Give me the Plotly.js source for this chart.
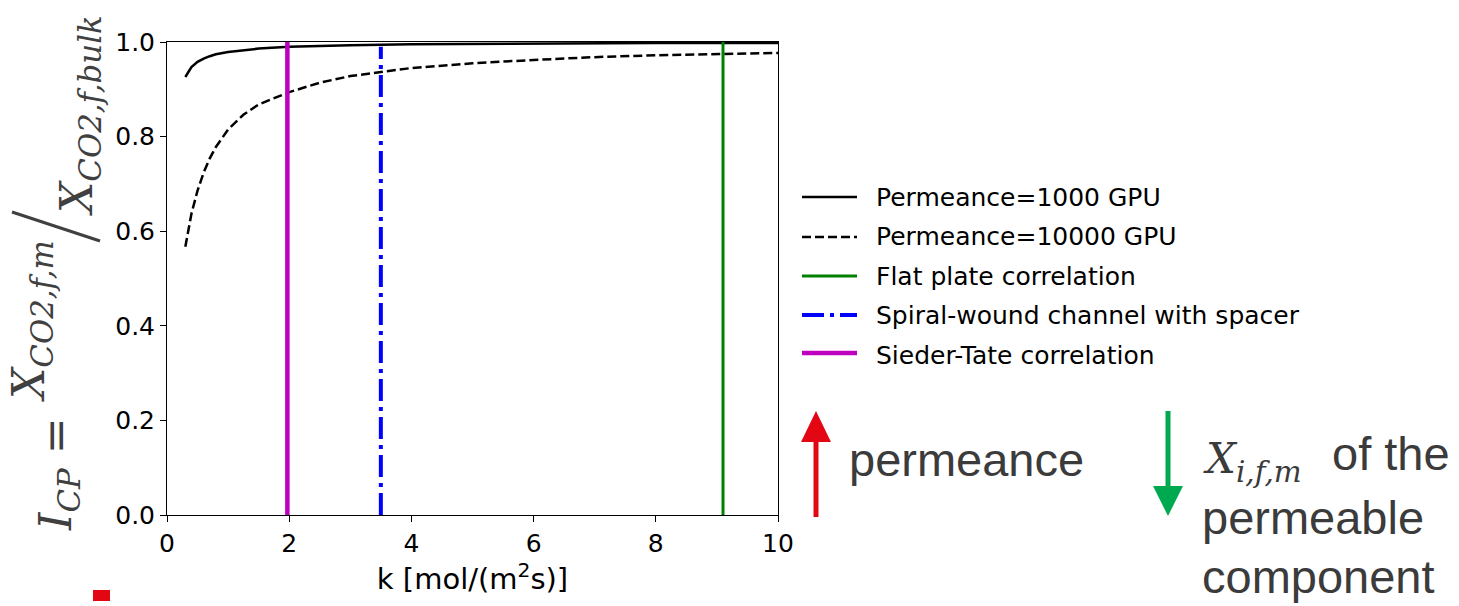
<!DOCTYPE html>
<html>
<head>
<meta charset="utf-8">
<script src="https://cdn.plot.ly/plotly-3.0.1.min.js"></script>
<style>
  html, body { margin: 0; padding: 0; background: #ffffff; }
  #chart { width: 1459px; height: 606px; }
</style>
</head>
<body>
<div id="chart"></div>
<script>
// ---------------- data ----------------
const kValues = [0.3, 0.35, 0.4, 0.5, 0.6, 0.7, 0.8, 1.0, 1.25, 1.5, 2, 2.5, 3, 4, 5, 6, 7, 8, 9, 10];
const icp1000 = [0.926, 0.938, 0.947, 0.958, 0.965, 0.970, 0.974, 0.979, 0.983, 0.986, 0.990, 0.992, 0.993, 0.995, 0.996, 0.997, 0.997, 0.998, 0.998, 0.998];
const icp10000 = [0.567, 0.605, 0.637, 0.686, 0.724, 0.754, 0.778, 0.815, 0.846, 0.868, 0.894, 0.914, 0.928, 0.945, 0.955, 0.962, 0.968, 0.972, 0.975, 0.977];

const seriesNames = ["Permeance=1000 GPU", "Permeance=10000 GPU", "Flat plate correlation", "Spiral-wound channel with spacer", "Sieder-Tate correlation"];
const flatPlateK = 9.1;
const spiralK = 3.5;
const siederTateK = 1.97;
const vlineBottom = 0.0;
const flatPlateTop = 1.0;
const spiralTop = 0.99;
const siederTateTop = 1.0;

const xTickVals = [0, 2, 4, 6, 8, 10];
const yTickVals = [0.0, 0.2, 0.4, 0.6, 0.8, 1.0];

// ---------------- styles ----------------
const lineStyles = [
  { color: "#000000", width: 2.5 },
  { color: "#000000", width: 2.5, dash: "9px,4px" },
  { color: "#008000", width: 3 },
  { color: "#0000ff", width: 4, dash: "22px,6px,4px,6px" },
  { color: "#bf00bf", width: 4.5 }
];

// ---------------- layout helpers (pixel -> paper) ----------------
const W = 1459, Hh = 606;
const L = 167, R = 778, T = 42, B = 515;
const PW = R - L, PH = B - T;
const fx = p => (p - L) / PW;
const fy = p => (B - p) / PH;

const serif = "DejaVu Serif, Liberation Serif, serif";
const sans = "DejaVu Sans, sans-serif";
const arial = "Liberation Sans, Arial, sans-serif";
const titleGrey = "#404040";
const textGrey = "#3b3b3b";

const dataTraces = [
  { x: kValues, y: icp1000, name: seriesNames[0], mode: "lines", showlegend: false, line: lineStyles[0] },
  { x: kValues, y: icp10000, name: seriesNames[1], mode: "lines", showlegend: false, line: lineStyles[1] },
  { x: [flatPlateK, flatPlateK], y: [vlineBottom, flatPlateTop], name: seriesNames[2], mode: "lines", showlegend: false, line: lineStyles[2] },
  { x: [spiralK, spiralK], y: [vlineBottom, spiralTop], name: seriesNames[3], mode: "lines", showlegend: false, line: lineStyles[3] },
  { x: [siederTateK, siederTateK], y: [vlineBottom, siederTateTop], name: seriesNames[4], mode: "lines", showlegend: false, line: lineStyles[4] }
];
// legend entries (handles are drawn below with matplotlib-length samples)
const legendTraces = seriesNames.map((nm, i) => ({
  x: [null], y: [null], name: nm, mode: "lines", showlegend: true,
  legendgroup: "g" + i, line: { color: "rgba(0,0,0,0)", width: 1 }
}));
const traces = dataTraces.concat(legendTraces);

const legendRowsPx = [197, 237, 276, 315, 353];
const legendSampleShapes = lineStyles.map((st, i) => ({
  type: "line", xref: "paper", yref: "paper",
  x0: fx(802), x1: fx(857), y0: fy(legendRowsPx[i]), y1: fy(legendRowsPx[i]),
  line: { color: st.color, width: st.width, dash: st.dash || "solid" }
}));

const shapes = legendSampleShapes.concat([
  // slash of the y-title fraction
  { type: "line", xref: "paper", yref: "paper", x0: fx(12), y0: fy(212), x1: fx(100), y1: fy(241),
    line: { color: titleGrey, width: 3 } },
  // red arrow (up)
  { type: "line", xref: "paper", yref: "paper", x0: fx(816), y0: fy(517), x1: fx(816), y1: fy(440),
    line: { color: "#e30613", width: 5 } },
  { type: "path", xref: "paper", yref: "paper",
    path: `M ${fx(801)},${fy(442)} L ${fx(831)},${fy(442)} L ${fx(816)},${fy(411)} Z`,
    fillcolor: "#e30613", line: { width: 0 } },
  // green arrow (down)
  { type: "line", xref: "paper", yref: "paper", x0: fx(1168), y0: fy(411), x1: fx(1168), y1: fy(488),
    line: { color: "#00a84f", width: 5 } },
  { type: "path", xref: "paper", yref: "paper",
    path: `M ${fx(1153)},${fy(486)} L ${fx(1183)},${fy(486)} L ${fx(1168)},${fy(516)} Z`,
    fillcolor: "#00a84f", line: { width: 0 } },
  // small red square bottom-left
  { type: "rect", xref: "paper", yref: "paper", x0: fx(93), y0: fy(590), x1: fx(110), y1: fy(601),
    fillcolor: "#e30613", line: { width: 0 } }
]);

const ann = (text, xp, yp, opts) => Object.assign({
  text: text, xref: "paper", yref: "paper", x: fx(xp), y: fy(yp),
  showarrow: false, xanchor: "center", yanchor: "middle"
}, opts);

const annotations = [
  // rotated y-axis title pieces
  ann("<i>I</i><sub><i>CP</i></sub> =", 58, 474,
      { textangle: -90, font: { family: serif, size: 44, color: titleGrey } }),
  ann("<i>X</i><sub><i>CO2,f,m</i></sub>", 31, 321,
      { textangle: -90, font: { family: serif, size: 44, color: titleGrey } }),
  ann("<i>X</i><sub><i>CO2,f,bulk</i></sub>", 79, 116,
      { textangle: -90, font: { family: serif, size: 44, color: titleGrey } }),
  // right-hand notes
  ann("permeance", 847, 459, { xanchor: "left", font: { family: arial, size: 47, color: textGrey } }),
  ann("<i>X</i><sub><i>i,f,m</i></sub>", 1201, 461, { xanchor: "left", font: { family: serif, size: 42, color: textGrey } }),
  ann("of the", 1330, 453, { xanchor: "left", font: { family: arial, size: 47, color: textGrey } }),
  ann("permeable", 1200, 517, { xanchor: "left", font: { family: arial, size: 47, color: textGrey } }),
  ann("component", 1200, 576, { xanchor: "left", font: { family: arial, size: 47, color: textGrey } })
];

const layout = {
  width: W, height: Hh,
  margin: { l: L, r: W - R, t: T, b: Hh - B, pad: 0 },
  paper_bgcolor: "#ffffff", plot_bgcolor: "#ffffff",
  showlegend: true,
  legend: {
    x: fx(801), y: fy(173), xanchor: "left", yanchor: "top",
    itemwidth: 65,
    font: { family: sans, size: 25, color: "#000000" },
    bgcolor: "rgba(0,0,0,0)", borderwidth: 0, tracegroupgap: 4
  },
  xaxis: {
    range: [0, 10], tickvals: xTickVals, ticktext: xTickVals.map(String),
    showgrid: false, zeroline: false, showline: true, mirror: true,
    linecolor: "#000000", linewidth: 1,
    ticks: "outside", ticklen: 6, tickwidth: 1, tickcolor: "#000000",
    tickfont: { family: sans, size: 25, color: "#000000" },
    title: { text: "k [mol/(m<sup>2</sup>s)]", font: { family: sans, size: 29, color: "#000000" }, standoff: 8 },
    automargin: false
  },
  yaxis: {
    range: [0, 1.0], tickvals: yTickVals, ticktext: yTickVals.map(v => v.toFixed(1)),
    showgrid: false, zeroline: false, showline: true, mirror: true,
    linecolor: "#000000", linewidth: 1,
    ticks: "outside", ticklen: 6, tickwidth: 1, tickcolor: "#000000",
    tickfont: { family: sans, size: 25, color: "#000000" },
    automargin: false
  },
  shapes: shapes,
  annotations: annotations
};

Plotly.newPlot("chart", traces, layout, { displayModeBar: false, staticPlot: true });
</script>
</body>
</html>
